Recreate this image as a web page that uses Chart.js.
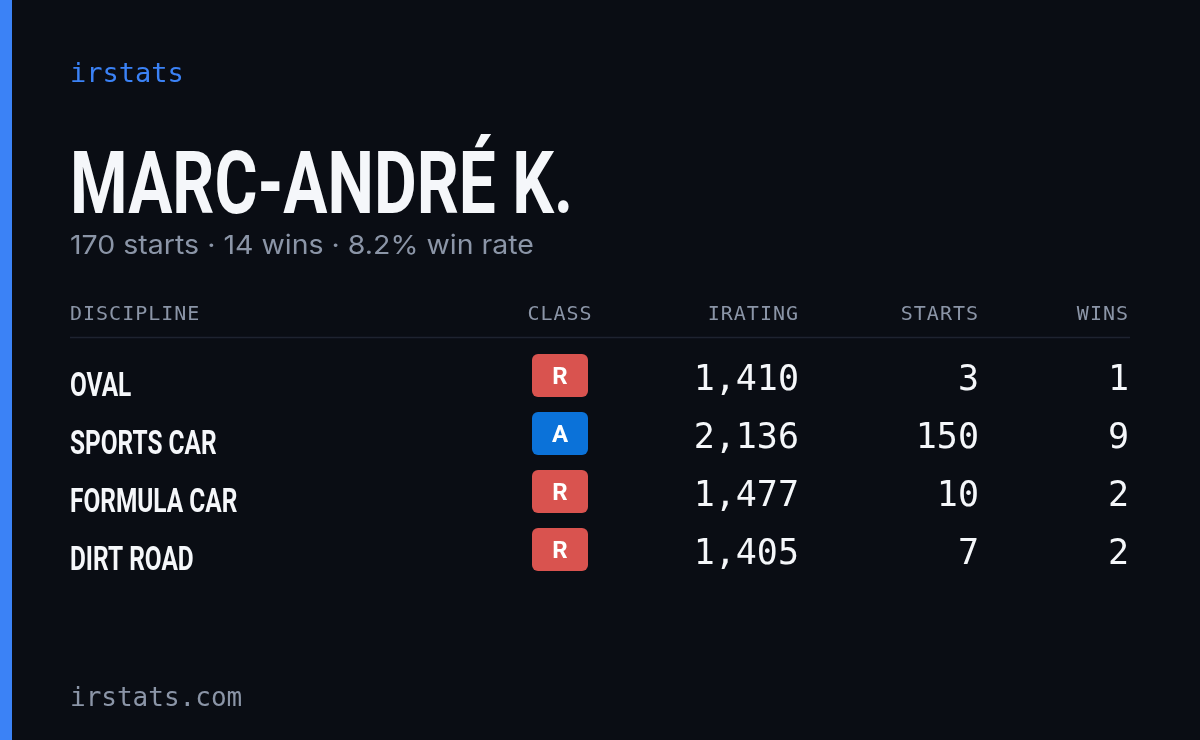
<!DOCTYPE html>
<html>
<head>
<meta charset="utf-8">
<style>
  html, body { margin: 0; padding: 0; background: #0a0d14; }
  canvas { display: block; }
</style>
</head>
<body>
<canvas id="card" width="1200" height="740"></canvas>
<script src="https://cdn.jsdelivr.net/npm/chart.js"></script>
<script>
  const driverName = "MARC-ANDRÉ K.";
  const summary = "170 starts · 14 wins · 8.2% win rate";
  const columns = ["DISCIPLINE", "CLASS", "IRATING", "STARTS", "WINS"];
  const disciplines = ["OVAL", "SPORTS CAR", "FORMULA CAR", "DIRT ROAD"];
  const classes = ["R", "A", "R", "R"];
  const iratings = [1410, 2136, 1477, 1405];
  const starts = [3, 150, 10, 7];
  const wins = [1, 9, 2, 2];

  const classColors = { R: "#d9534f", A: "#0b72d9" };
  const colX = [70, 560, 799, 979, 1129];
  const mono = '"DejaVu Sans Mono", monospace';

  const cardPlugin = {
    id: "card",
    beforeDraw(chart) {
      const ctx = chart.ctx;
      ctx.save();
      ctx.fillStyle = "#0a0d14";
      ctx.fillRect(0, 0, chart.width, chart.height);
      ctx.fillStyle = "#3b82f6";
      ctx.fillRect(0, 0, 12, chart.height);
      ctx.restore();
    },
    afterDatasetsDraw(chart) {
      const ctx = chart.ctx, x = chart.scales.x, y = chart.scales.y;
      ctx.save();
      ctx.textBaseline = "alphabetic";

      ctx.fillStyle = "#3b82f6";
      ctx.font = "27px " + mono;
      ctx.fillText("irstats", 70, 82);

      // condensed title
      ctx.fillStyle = "#f5f7fa";
      ctx.font = "bold 88px Roboto";
      const tw = ctx.measureText(driverName).width;
      ctx.save();
      ctx.translate(70, 213);
      ctx.scale(503 / tw, 1);
      ctx.fillText(driverName, 0, 0);
      ctx.restore();

      ctx.fillStyle = "#8b95a7";
      ctx.font = "26px Inter";
      const sw = ctx.measureText(summary).width;
      ctx.save();
      ctx.translate(70, 254);
      ctx.scale(464 / sw, 1);
      ctx.fillText(summary, 0, 0);
      ctx.restore();

      // header
      const hy = y.getPixelForValue(-1.12);
      ctx.font = "20px " + mono;
      ctx.letterSpacing = "1px";
      ctx.fillStyle = "#8b95a7";
      columns.forEach((c, i) => {
        ctx.textAlign = i === 0 ? "left" : (i === 1 ? "center" : "right");
        ctx.fillText(c, x.getPixelForValue(colX[i]), hy + 7);
      });
      ctx.letterSpacing = "0px";
      ctx.strokeStyle = "#1e2330";
      ctx.lineWidth = 1.5;
      ctx.beginPath();
      const ly = y.getPixelForValue(-0.7);
      ctx.moveTo(70, ly); ctx.lineTo(1130, ly); ctx.stroke();

      disciplines.forEach((d, i) => {
        const py = y.getPixelForValue(i);
        // discipline name
        ctx.textAlign = "left";
        ctx.fillStyle = "#f5f7fa";
        ctx.font = "bold 33px Roboto";
        ctx.save();
        ctx.translate(x.getPixelForValue(colX[0]), py + 18);
        ctx.scale(0.74, 1);
        ctx.fillText(d, 0, 0);
        ctx.restore();
        // badge
        const bx = x.getPixelForValue(colX[1]);
        ctx.fillStyle = classColors[classes[i]];
        ctx.beginPath();
        ctx.roundRect(bx - 28, py - 24, 56, 43, 6);
        ctx.fill();
        ctx.fillStyle = "#ffffff";
        ctx.font = "bold 24px Roboto";
        ctx.textAlign = "center";
        ctx.fillText(classes[i], bx, py + 6);
        // numbers
        ctx.font = "35px " + mono;
        ctx.fillStyle = "#f5f7fa";
        ctx.textAlign = "right";
        ctx.fillText(iratings[i].toLocaleString("en-US"), x.getPixelForValue(colX[2]), py + 12);
        ctx.fillText(String(starts[i]), x.getPixelForValue(colX[3]), py + 12);
        ctx.fillText(String(wins[i]), x.getPixelForValue(colX[4]), py + 12);
      });

      ctx.textAlign = "left";
      ctx.fillStyle = "#8b95a7";
      ctx.font = "26px " + mono;
      ctx.fillText("irstats.com", 70, 706);
      ctx.restore();
    }
  };

  new Chart(document.getElementById("card"), {
    type: "scatter",
    data: {
      datasets: [{
        data: disciplines.map((d, i) => ({ x: colX[1], y: i })),
        pointRadius: 0
      }]
    },
    options: {
      responsive: false,
      animation: false,
      layout: { padding: 0 },
      plugins: { legend: { display: false }, tooltip: { enabled: false } },
      scales: {
        x: { type: "linear", min: 0, max: 1200, display: false },
        y: { type: "linear", min: -378 / 58, max: 362 / 58, reverse: true, display: false }
      }
    },
    plugins: [cardPlugin]
  });
</script>
</body>
</html>
